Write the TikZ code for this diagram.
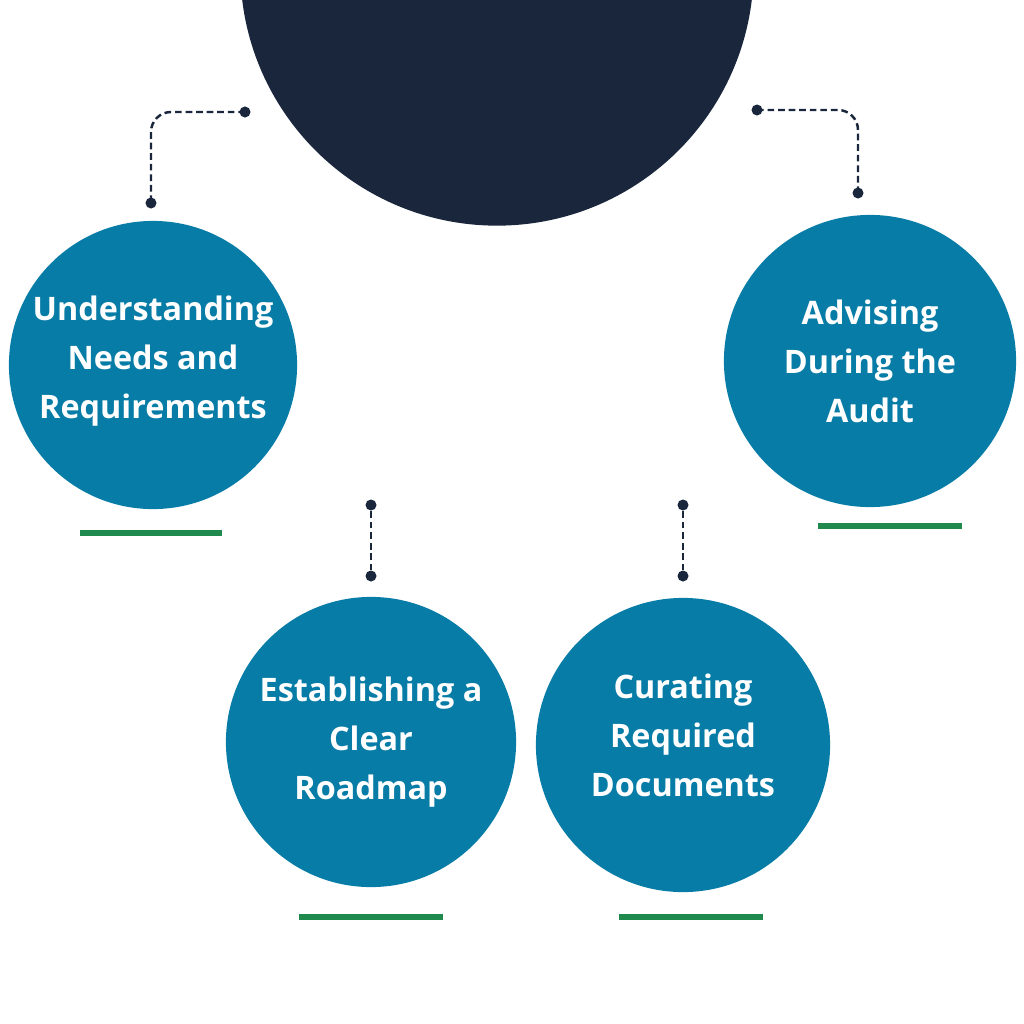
\documentclass[tikz,border=0pt]{standalone}
\usepackage{fontspec}
\setmainfont{Open Sans}
\definecolor{navy}{HTML}{1A263C}
\definecolor{stepblue}{HTML}{077CA6}
\definecolor{barline}{HTML}{208A4E}
\begin{document}
\begin{tikzpicture}[x=0.01cm, y=-0.01cm,
  stepcircle/.style={circle, fill=stepblue, text=white, inner sep=0pt, align=center,
    font=\fontsize{9.2}{13.9}\selectfont\bfseries},
  pin/.style={circle, fill=navy, inner sep=0pt, minimum size=0.11cm},
  link/.style={draw=navy, line width=0.7pt, dash pattern=on 1.9pt off 1.1pt, rounded corners=0.2cm},
  bar/.style={draw=barline, line width=1.5pt}]
\useasboundingbox (0,0) rectangle (1024,1024);
\clip (0,0) rectangle (1024,1024);
\node[circle, fill=navy, minimum size=5.13cm] (hub) at (497,-31) {};
% steps
\node[stepcircle, minimum size=2.88cm, text depth=4.5pt] (needs) at (153,365) {Understanding\\Needs and\\Requirements};
\node[stepcircle, minimum size=2.92cm] (audit) at (870,361) {Advising\\During the\\Audit};
\node[stepcircle, minimum size=2.90cm] (roadmap) at (371,742) {Establishing a\\Clear\\Roadmap};
\node[stepcircle, minimum size=2.94cm, text depth=5.7pt] (docs) at (683,745) {Curating\\Required\\Documents};
% underlines
\draw[bar] (80,533) -- (222,533);
\draw[bar] (818,526) -- (962,526);
\draw[bar] (299,917) -- (443,917);
\draw[bar] (619,917) -- (763,917);
% pins and links
\node[pin] (p1) at (245,112) {};
\node[pin] (p2) at (151,203) {};
\node[pin] (p3) at (757,110) {};
\node[pin] (p4) at (858,193) {};
\node[pin] (p5) at (371,505) {};
\node[pin] (p6) at (371,576) {};
\node[pin] (p7) at (683,505) {};
\node[pin] (p8) at (683,576) {};
\draw[link] (p1.center) -| (p2.center);
\draw[link] (p3.center) -| (p4.center);
\draw[link] (p5) -- (p6);
\draw[link] (p7) -- (p8);
\end{tikzpicture}
\end{document}
